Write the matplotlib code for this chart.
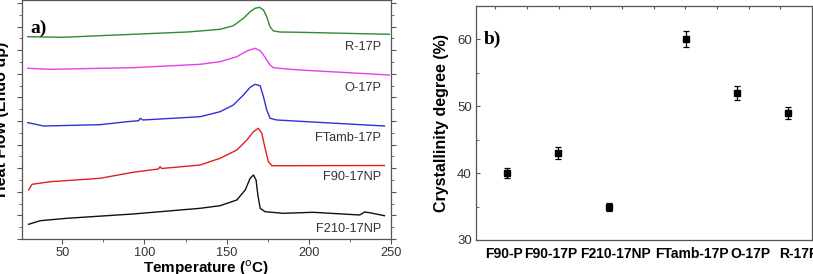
import matplotlib
matplotlib.use('Agg')
import matplotlib.pyplot as plt
import numpy as np
from matplotlib.ticker import MultipleLocator

plt.rcParams['font.family'] = ['Liberation Sans', 'DejaVu Sans']

# ---- panel a) DSC curves (arbitrary heat-flow units)
t_r = [29, 50, 93, 126, 133.9, 146, 154.1, 160.2, 164.3, 167.3, 170, 172.4, 174.4, 176.4,
       178.5, 182.5, 194.7, 249]
hf_r = [202.3, 201.7, 204.7, 207, 208, 209.7, 213.3, 220.7, 227.3, 230.7, 231.7, 229, 222.3,
        212.3, 208, 207, 206.7, 204.7]

t_o = [29, 42.7, 93, 133.9, 146, 156.2, 162.3, 167.3, 170.4, 173.4, 176.4, 178.5, 186.6,
       194.7, 249]
hf_o = [170.7, 169.7, 171.3, 174.7, 177.3, 182.3, 188, 190.7, 188.3, 181.7, 174, 171.3, 170,
        169, 164]

t_ft = [29, 31, 38.6, 73, 89.5, 96.5, 97.4, 99, 133.9, 146, 154.1, 160.2, 164.3, 167.3, 170.4,
        172.4, 174.4, 176.4, 180.5, 246]
hf_ft = [116.3, 115.7, 113, 114.3, 117.3, 118.3, 120.7, 119, 122.3, 127.3, 134, 144, 151.7,
         154.7, 153.3, 142.3, 129, 120.7, 119, 113]

t_f90 = [29.5, 31.6, 42.7, 73, 93, 108.5, 109.5, 110.5, 133.9, 146, 156.2, 162.3, 166.3, 169.3,
         171.4, 173.4, 175.4, 177.5, 190, 246]
hf_f90 = [49, 54.7, 57.3, 60.7, 66.7, 70, 72.3, 70.5, 74, 80.7, 89, 99, 107.3, 110.7, 105.7,
          90.7, 77.3, 73.3, 73.3, 73.5]

t_f210 = [29.5, 36.6, 52.8, 93, 133.9, 146, 156.2, 161.3, 164.3, 166.3, 167.9, 169, 170.4,
          173.4, 184.5, 202.6, 231, 234, 237, 246]
hf_f210 = [14.7, 18.3, 20.7, 25, 30.7, 33.3, 39, 49, 60.7, 64, 59, 44, 30.7, 27.3, 25.7, 26.7,
           24, 27, 26.3, 23.3]

curve_names = ['R-17P', 'O-17P', 'FTamb-17P', 'F90-17NP', 'F210-17NP']
curve_colors = ['#2e8b2e', '#e83ee8', '#3030d8', '#e02020', '#111111']
label_y = [192, 151, 101, 62, 10]

# ---- panel b) crystallinity
samples = ['F90-P', 'F90-17P', 'F210-17NP', 'FTamb-17P', 'O-17P', 'R-17P']
sample_pos = [1, 2, 3, 4.5, 5.5, 6.5]
label_pos = [0.94, 1.86, 3.12, 4.63, 5.78, 6.72]
cryst = [40, 43, 35, 60, 52, 49]
cryst_err = [0.8, 0.9, 0.6, 1.2, 1.0, 0.9]

W, H = 813, 274
fig = plt.figure(figsize=(W / 100, H / 100), dpi=100)
spine_c = '#555555'
txt_c = '#333333'

# ---------------- panel a
ax = fig.add_axes([22 / W, 1 - 239 / H, 369 / W, 239 / H])
curves = [(t_r, hf_r), (t_o, hf_o), (t_ft, hf_ft), (t_f90, hf_f90), (t_f210, hf_f210)]
for (t, hf), c in zip(curves, curve_colors):
    ax.plot(t, hf, color=c, lw=1.0)
for name, yy in zip(curve_names, label_y):
    ax.text(244, yy, name, ha='right', va='center', fontsize=9.2, color=txt_c)
ax.text(30.5, 211, 'a)', fontsize=14, fontweight='bold', family='Liberation Serif',
        va='center', ha='left')
ax.set_xlim(25.5, 250)
ax.set_ylim(0, 239)
ax.xaxis.set_major_locator(MultipleLocator(50))
ax.xaxis.set_minor_locator(MultipleLocator(25))
ax.yaxis.set_major_locator(MultipleLocator(23.6))
ax.yaxis.set_minor_locator(MultipleLocator(11.8))
ax.tick_params(which='both', direction='out', color=spine_c, labelsize=9.2, labelcolor=txt_c,
               top=True, right=True, pad=2)
ax.tick_params(which='major', length=3.5)
ax.tick_params(which='minor', length=2)
ax.tick_params(axis='y', labelleft=False)
for s in ax.spines.values():
    s.set_color(spine_c)
    s.set_linewidth(0.9)
ax.set_xlabel('Temperature ($^{\\mathrm{o}}$C)', fontsize=11, fontweight='bold', labelpad=0)
ax.set_ylabel('Heat Flow (Endo up)', fontsize=11.5, fontweight='bold')
ax.yaxis.set_label_coords(-0.035, 0.5)

# ---------------- panel b
bx = fig.add_axes([476 / W, 1 - 240 / H, 336 / W, 234 / H])
bx.errorbar(sample_pos, cryst, yerr=cryst_err, fmt='s', color='black', ms=4,
            capsize=2.5, elinewidth=0.9, capthick=0.9)
bx.text(0.55, 60, 'b)', fontsize=14, fontweight='bold', family='Liberation Serif',
        va='center', ha='left')
bx.set_xlim(0.39, 6.98)
bx.set_ylim(30, 65)
bx.set_xticks(label_pos)
bx.set_xticklabels(samples, fontsize=10, fontweight='bold')
bx.tick_params(axis='x', length=0, pad=5)
bx.yaxis.set_major_locator(MultipleLocator(10))
bx.yaxis.set_minor_locator(MultipleLocator(5))
bx.tick_params(axis='y', which='both', direction='in', color=spine_c, labelsize=9.5,
               labelcolor=txt_c, pad=3)
bx.tick_params(axis='y', which='major', length=3)
bx.tick_params(axis='y', which='minor', length=2)
bx.set_ylabel('Crystallinity degree (%)', fontsize=11.5, fontweight='bold', labelpad=6)
for s in bx.spines.values():
    s.set_color(spine_c)
    s.set_linewidth(0.9)
# top minor ticks along the upper spine
sec = bx.secondary_xaxis('top')
sec.set_xticks(np.arange(0.765, 6.98, 0.6216))
sec.set_xticklabels([])
sec.tick_params(direction='in', length=2, color=spine_c)
sec.spines['top'].set_visible(False)

fig.savefig('out.png', dpi=100)
